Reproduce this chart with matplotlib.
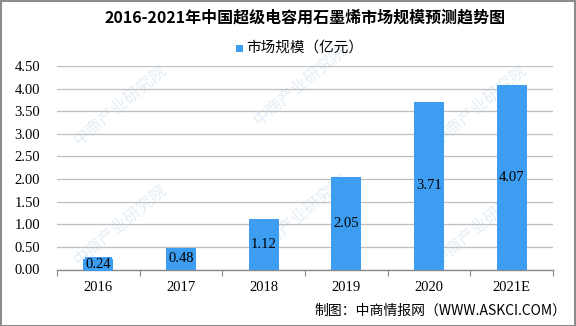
import matplotlib
matplotlib.use("Agg")
import matplotlib.pyplot as plt
from matplotlib.patches import Rectangle
import numpy as np

categories = ["2016", "2017", "2018", "2019", "2020", "2021E"]
values = [0.24, 0.48, 1.12, 2.05, 3.71, 4.07]
value_labels = ["0.24", "0.48", "1.12", "2.05", "3.71", "4.07"]
yticks = [0, 0.5, 1.0, 1.5, 2.0, 2.5, 3.0, 3.5, 4.0, 4.5]
title = "2016-2021年中国超级电容用石墨烯市场规模预测趋势图"
legend_label = "市场规模（亿元）"
source = "制图：中商情报网（WWW.ASKCI.COM）"
watermark = "中商产业研究院"

CJK = ["Noto Sans CJK SC", "DejaVu Sans"]
NUM = ["Liberation Serif", "DejaVu Serif"]
bar_color = "#3D9DF0"

W, H = 576, 326
fig = plt.figure(figsize=(W / 100, H / 100), dpi=100)

# faint watermark
for (wx, wy) in [(120, 105), (300, 85), (480, 105), (120, 225), (300, 215), (480, 225)]:
    fig.text(wx / W, 1 - wy / H, watermark, rotation=40, fontsize=12,
             color="#e3eef7", family=CJK, ha="center", va="center", zorder=-5)

ax = fig.add_axes([57 / W, 1 - 269.5 / H, (553 - 57) / W, (269.5 - 66) / H])
ax.patch.set_alpha(0)
x = np.arange(len(categories))
ax.bar(x, values, width=0.36, color=bar_color, zorder=3)
for xi, v, lab in zip(x, values, value_labels):
    ax.text(xi, v / 2, lab, ha="center", va="center", fontsize=10.5, family=NUM,
            color="black", zorder=4,
            bbox=dict(facecolor=bar_color, edgecolor="none", pad=0.5))

ax.set_xlim(-0.5, len(categories) - 0.5)
ax.set_ylim(0, 4.5)
ax.set_yticks(yticks)
ax.set_yticklabels([f"{t:.2f}" for t in yticks], family=NUM, fontsize=10.5)
ax.yaxis.grid(True, color="#bfbfbf", linewidth=0.9, zorder=0)
ax.tick_params(axis="y", length=0, pad=12)
ax.set_xticks(np.arange(-0.5, len(categories), 1.0))
ax.set_xticklabels([])
ax.set_xticks(x, minor=True)
ax.set_xticklabels(categories, minor=True, family=NUM, fontsize=10.5)
ax.tick_params(axis="x", which="major", direction="out", length=4, color="#888888")
ax.tick_params(axis="x", which="minor", length=0, pad=8)
for s in ["top", "right", "left"]:
    ax.spines[s].set_visible(False)
ax.spines["bottom"].set_color("#888888")
ax.spines["bottom"].set_linewidth(1.0)

fig.text(305 / W, 1 - 18 / H, title, ha="center", va="center", fontsize=11.5,
         fontweight="bold", family=CJK)
fig.patches.append(Rectangle((236 / W, 1 - 52 / H), 7 / W, 7 / H, transform=fig.transFigure,
                             facecolor=bar_color, edgecolor="none"))
fig.text(246 / W, 1 - 48 / H, legend_label, ha="left", va="center", fontsize=10.5, family=CJK)
fig.text(566 / W, 1 - 311 / H, source, ha="right", va="center", fontsize=10, family=CJK)

fig.patches.append(Rectangle((0.5 / W, 0.5 / H), (W - 1.5) / W, (H - 1.5) / H, transform=fig.transFigure,
                             facecolor="none", edgecolor="#8c8c8c", linewidth=1.5))

fig.savefig("out.png", dpi=100)
